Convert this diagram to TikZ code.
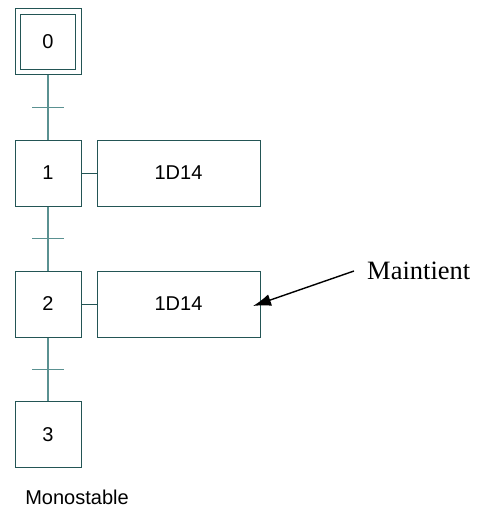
\documentclass[tikz,border=0pt]{standalone}
\usepackage{fontspec}
\setmainfont{Liberation Sans}
\newfontfamily\serifnote{Liberation Serif}
\usepackage{xcolor}
\usetikzlibrary{calc,arrows.meta}

\definecolor{linkcol}{RGB}{90,145,145}
\definecolor{boxcol}{RGB}{35,85,85}

\tikzset{
  etape/.style={draw=boxcol, line width=1pt, minimum size=66pt, inner sep=0pt, font=\fontsize{20}{23}\selectfont},
  action/.style={draw=boxcol, line width=1pt, minimum width=163pt, minimum height=66pt, inner sep=0pt, font=\fontsize{20}{23}\selectfont},
  lien/.style={draw=linkcol, line width=1.1pt},
}

\begin{document}
\begin{tikzpicture}[x=1pt,y=-1pt]
\useasboundingbox (0,0) rectangle (485,508);

% Steps
\node[etape] (s0) at (48,42) {0};
\node[draw=boxcol, line width=1pt, minimum size=55pt, inner sep=0pt] (s0in) at (48,42) {};
\node[etape] (s1) at (48,173) {1};
\node[etape] (s2) at (48,304) {2};
\node[etape] (s3) at (48,434.5) {3};

% Actions
\node[action] (a1) at (178.5,173) {1D14};
\node[action] (a2) at (178.5,304) {1D14};

% Links and transitions
\draw[lien] (s0) -- (s1);
\draw[lien] (s1) -- (s2);
\draw[lien] (s2) -- (s3);
\draw[lien] ($(s0.south)!0.5!(s1.north)$) ++(-16,0) -- ++(32,0);
\draw[lien] ($(s1.south)!0.5!(s2.north)$) ++(-16,0) -- ++(32,0);
\draw[lien] ($(s2.south)!0.5!(s3.north)$) ++(-16,0) -- ++(32,0);
\draw[draw=boxcol, line width=1pt] (s1) -- (a1);
\draw[draw=boxcol, line width=1pt] (s2) -- (a2);

% Note
\node[font=\serifnote\fontsize{26.5}{30}\selectfont, anchor=west, inner sep=0pt] (note) at (367,271) {Maintient};
\coordinate (tip) at (253,306);
\draw[line width=1.4pt, -{Latex[length=18pt,width=12pt]}] ([xshift=-13pt]note.west) -- (tip);

% Caption
\node[font=\fontsize{20}{23}\selectfont, inner sep=0pt] (cap) at (77,497) {Monostable};
\end{tikzpicture}
\end{document}
